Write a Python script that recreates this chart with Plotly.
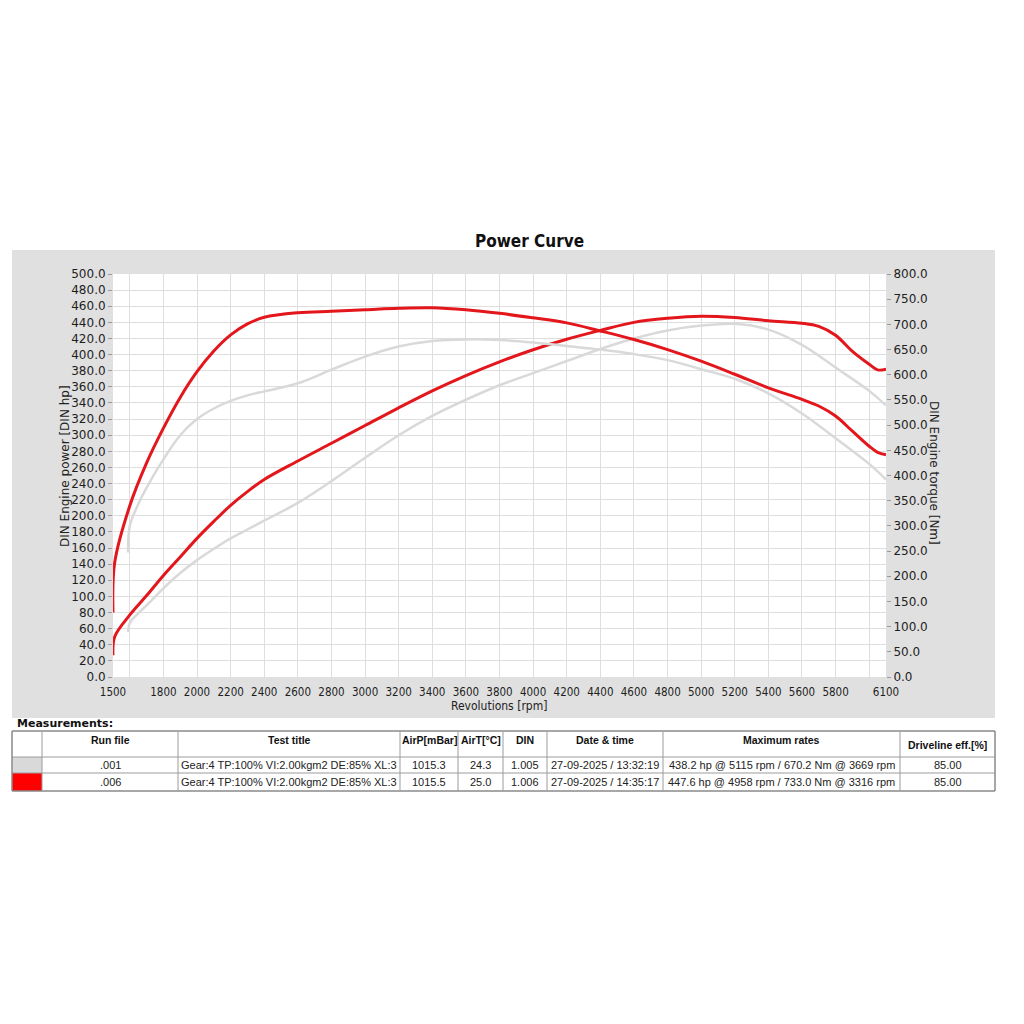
import plotly.graph_objects as go

# ---------------- data ----------------
# run .006 (red)
rpm_006 = [1500, 1510, 1600, 1700, 1800, 1900, 2000, 2100, 2200, 2300, 2400, 2600, 2800, 3000,
           3200, 3400, 3600, 3800, 4000, 4200, 4400, 4600, 4800, 5000, 5200, 5400, 5600,
           5700, 5800, 5900, 6000, 6050, 6100]
torque_006 = [128, 227, 340, 425, 494, 555, 606, 647, 679, 701, 714, 723, 726, 729,
              732, 733, 729, 722, 713, 703, 687, 670, 650, 627, 601, 574, 551,
              538, 518, 488, 458, 446, 441]
power_006 = [27, 50, 77, 101, 126, 149, 172, 193, 213, 230, 245, 268, 290, 312,
             334, 355, 374, 391, 406, 419, 430, 440, 445, 447.6, 446, 442, 439,
             435, 424, 404, 388, 381, 382]

# run .001 (grey)
rpm_001 = [1590, 1600, 1650, 1700, 1800, 1900, 2000, 2100, 2200, 2300, 2400, 2600, 2800, 3000,
           3200, 3400, 3600, 3800, 4000, 4200, 4400, 4600, 4800, 5000, 5200, 5400, 5600,
           5800, 6000, 6100]
torque_001 = [247, 300, 343, 376, 432, 480, 512, 533, 548, 559, 567, 583, 610, 636,
              656, 667, 670.2, 669, 664, 657, 650, 641, 629, 611, 592, 563, 523,
              474, 423, 392]
power_001 = [56, 67, 79, 89, 110, 129, 145, 159, 172, 183, 194, 216, 243, 272,
             300, 324, 344, 362, 377, 392, 407, 420, 430, 436, 438.2, 431, 412,
             384, 355, 337]

# axis ticks
x_tickvals = [1500, 1600, 1800, 2000, 2200, 2400, 2600, 2800, 3000, 3200, 3400, 3600, 3800,
              4000, 4200, 4400, 4600, 4800, 5000, 5200, 5400, 5600, 5800, 6000, 6100]
x_ticktext = ["1500", "", "1800", "2000", "2200", "2400", "2600", "2800", "3000", "3200",
              "3400", "3600", "3800", "4000", "4200", "4400", "4600", "4800", "5000", "5200",
              "5400", "5600", "5800", "", "6100"]

# table
tbl_header = ["", "Run file", "Test title", "AirP[mBar]", "AirT[°C]", "DIN", "Date & time",
              "Maximum rates", "Driveline eff.[%]"]
tbl_swatch = ["#d9d9d9", "#ff0000"]
tbl_run = [".001", ".006"]
tbl_title = ["Gear:4 TP:100% VI:2.00kgm2 DE:85% XL:3", "Gear:4 TP:100% VI:2.00kgm2 DE:85% XL:3"]
tbl_airp = ["1015.3", "1015.5"]
tbl_airt = ["24.3", "25.0"]
tbl_din = ["1.005", "1.006"]
tbl_date = ["27-09-2025 / 13:32:19", "27-09-2025 / 14:35:17"]
tbl_max = ["438.2 hp @ 5115 rpm / 670.2 Nm @ 3669 rpm", "447.6 hp @ 4958 rpm / 733.0 Nm @ 3316 rpm"]
tbl_eff = ["85.00", "85.00"]

# ---------------- styling / geometry ----------------
RED = "#e3161c"
GREY = "#d9d9d9"
BOXGREY = "#e0e0e0"
GRID = "#dedede"
TICKFONT = dict(family="DejaVu Sans, Verdana, sans-serif", size=12, color="#1e1e1e")
NARROW = "Liberation Sans Narrow, DejaVu Sans Condensed, Roboto Condensed, sans-serif"
ARIAL = "Liberation Sans, Arial, sans-serif"

OFF = 8                     # default page (body) margin
W, H = 1016, 1016
ML, MR, MT, MB = 4, 29, 242, 232
PW, PH = W - ML - MR, H - MT - MB


def px(sx):
    return (sx - OFF - ML) / PW


def py(sy):
    return (H - MB - (sy - OFF)) / PH


XD = [px(113), px(886)]
YD = [py(677), py(274)]

fig = go.Figure()

LS = dict(shape="spline", smoothing=1.0)
# red first, grey drawn on top (as in reference)
fig.add_trace(go.Scatter(x=rpm_006, y=power_006, mode="lines", yaxis="y",
                         line=dict(color=RED, width=3, **LS), hoverinfo="skip"))
fig.add_trace(go.Scatter(x=rpm_006, y=torque_006, mode="lines", yaxis="y2",
                         line=dict(color=RED, width=3, **LS), hoverinfo="skip"))
fig.add_trace(go.Scatter(x=rpm_001, y=power_001, mode="lines", yaxis="y",
                         line=dict(color=GREY, width=2.5, **LS), hoverinfo="skip"))
fig.add_trace(go.Scatter(x=rpm_001, y=torque_001, mode="lines", yaxis="y2",
                         line=dict(color=GREY, width=2.5, **LS), hoverinfo="skip"))

shapes = []
# grey frame around the plotting area
for (x0, x1, y0, y1) in [
    (px(12), px(995), YD[1], py(250)),
    (px(12), px(995), py(718), YD[0]),
    (px(12), XD[0], YD[0], YD[1]),
    (XD[1], px(995), YD[0], YD[1]),
]:
    shapes.append(dict(type="rect", xref="paper", yref="paper", x0=x0, x1=x1, y0=y0, y1=y1,
                       fillcolor=BOXGREY, line=dict(width=0), layer="below"))

annotations = [
    dict(text="<b>Power Curve</b>", xref="paper", yref="paper", x=px(529), y=py(241),
         showarrow=False, xanchor="center", yanchor="middle",
         font=dict(family=NARROW, size=17, color="#111")),
    dict(text="DIN Engine power [DIN hp]", xref="paper", yref="paper", x=px(65), y=py(466),
         showarrow=False, textangle=-90, xanchor="center", yanchor="middle",
         font=dict(family="DejaVu Sans, sans-serif", size=12, color="#222")),
    dict(text="DIN Engine torque [Nm]", xref="paper", yref="paper", x=px(934), y=py(473),
         showarrow=False, textangle=90, xanchor="center", yanchor="middle",
         font=dict(family="DejaVu Sans, sans-serif", size=12, color="#222")),
    dict(text="Revolutions [rpm]", xref="paper", yref="paper", x=px(499), y=py(706),
         showarrow=False, xanchor="center", yanchor="middle",
         font=dict(family=NARROW, size=12, color="#222")),
    dict(text="<b>Measurements:</b>", xref="paper", yref="paper", x=px(15), y=py(723),
         showarrow=False, xanchor="left", yanchor="middle",
         font=dict(family="DejaVu Sans, sans-serif", size=11, color="#111")),
]

# ---------------- measurements table (drawn with shapes + text) ----------------
col_x = [12, 42, 178, 400, 458, 503, 547, 663, 900, 995]
row_y = [731, 757, 773, 791]
LINEC = "#9c9c9c"

for r, sw in enumerate(tbl_swatch):
    shapes.append(dict(type="rect", xref="paper", yref="paper",
                       x0=px(col_x[0]), x1=px(col_x[1]), y0=py(row_y[r + 2]), y1=py(row_y[r + 1]),
                       fillcolor=sw, line=dict(width=0)))
for yy in row_y:
    outer = yy in (row_y[0], row_y[-1])
    shapes.append(dict(type="line", xref="paper", yref="paper", x0=px(col_x[0]), x1=px(col_x[-1]),
                       y0=py(yy), y1=py(yy),
                       line=dict(color="#8a8a8a" if outer else LINEC, width=1.5 if outer else 1)))
for xx in col_x:
    outer = xx in (col_x[0], col_x[-1])
    shapes.append(dict(type="line", xref="paper", yref="paper", x0=px(xx), x1=px(xx),
                       y0=py(row_y[0]), y1=py(row_y[-1]),
                       line=dict(color="#8a8a8a" if outer else LINEC, width=1.5 if outer else 1)))

columns = [tbl_run, tbl_title, tbl_airp, tbl_airt, tbl_din, tbl_date, tbl_max, tbl_eff]
for c, head in enumerate(tbl_header):
    if not head:
        continue
    cx = (col_x[c] + col_x[c + 1]) / 2
    hy = 745 if c == len(tbl_header) - 1 else 740
    annotations.append(dict(text=f"<b>{head}</b>", xref="paper", yref="paper", x=px(cx), y=py(hy),
                            showarrow=False, xanchor="center", yanchor="middle",
                            font=dict(family=ARIAL, size=10.5, color="#111")))
    for r, val in enumerate(columns[c - 1]):
        ry = (row_y[r + 1] + row_y[r + 2]) / 2
        annotations.append(dict(text=val, xref="paper", yref="paper", x=px(cx), y=py(ry),
                                showarrow=False, xanchor="center", yanchor="middle",
                                font=dict(family=ARIAL, size=11, color="#222")))

fig.update_layout(
    width=W, height=H,
    margin=dict(l=ML, r=MR, t=MT, b=MB, pad=0, autoexpand=False),
    paper_bgcolor="white", plot_bgcolor="white",
    showlegend=False,
    shapes=shapes, annotations=annotations,
    xaxis=dict(domain=XD, range=[1500, 6100], tickvals=x_tickvals, ticktext=x_ticktext,
               showgrid=True, gridcolor=GRID, gridwidth=1, zeroline=False, automargin=False,
               showline=False, ticks="outside", ticklen=4, tickcolor="rgba(0,0,0,0)",
               tickfont=dict(family=NARROW, size=11.5, color="#1e1e1e"),
               anchor="y"),
    yaxis=dict(domain=YD, range=[0, 500], dtick=20, tick0=0, tickformat=".1f", automargin=False,
               showgrid=True, gridcolor=GRID, gridwidth=1, zeroline=False,
               showline=False, ticks="outside", ticklen=4, tickcolor="#9a9a9a",
               tickfont=TICKFONT, anchor="x"),
    yaxis2=dict(domain=YD, range=[0, 800], dtick=50, tick0=0, tickformat=".1f", automargin=False,
                overlaying="y", side="right", showgrid=False, zeroline=False,
                showline=False, ticks="outside", ticklen=4, tickcolor="#9a9a9a",
                tickfont=TICKFONT, anchor="x"),
)

fig.write_html("out.html")
